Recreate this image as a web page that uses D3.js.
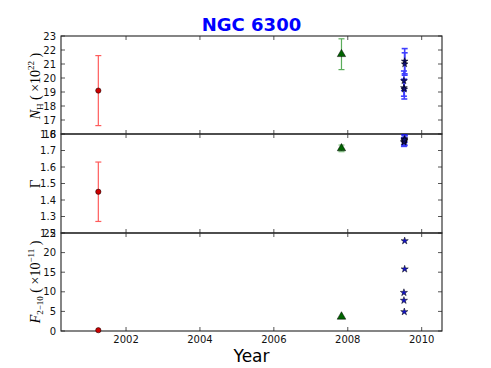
<!DOCTYPE html>
<html>
<head>
<meta charset="utf-8">
<script src="https://cdn.jsdelivr.net/npm/d3@7"></script>
<style>
body { margin: 0; background: #fff; }
svg { display: block; }
</style>
</head>
<body>
<svg width="491" height="368"></svg>
<script>
// observations per instrument: year, NH, gamma, flux with errors
var redYear = [2001.25];
var redNH = [19.1], redNHErr = [2.5];
var redGamma = [1.45], redGammaErr = [0.18];
var redFlux = [0.2];

var greenYear = [2007.83];
var greenNH = [21.7], greenNHErr = [1.1];
var greenGamma = [1.713], greenGammaErr = [0.02];
var greenFlux = [3.65];

var blueYear = [2009.54, 2009.54, 2009.52, 2009.52, 2009.53];
var blueNH = [21.2, 21.0, 19.8, 19.3, 19.2];
var blueNHErr = [0.9, 0.8, 0.7, 0.6, 0.7];
var blueGamma = [1.76, 1.77, 1.75, 1.755, 1.765];
var blueGammaErr = [0.03, 0.02, 0.025, 0.02, 0.03];
var blueFlux = [23.0, 15.8, 9.8, 7.8, 4.9];

var xTicks = [2002, 2004, 2006, 2008, 2010];
var nhTicks = [16, 17, 18, 19, 20, 21, 22, 23];
var gammaTicks = [1.2, 1.3, 1.4, 1.5, 1.6, 1.7, 1.8];
var fluxTicks = [0, 5, 10, 15, 20, 25];

var svg = d3.select('svg');
var left = 61, right = 442;

var x = d3.scaleLinear().domain([2000.24, 2010.55]).range([left, right]);

var panels = [
    { top: 36, bottom: 134, domain: [16, 23], ticks: nhTicks, fmt: d3.format('d') },
    { top: 134, bottom: 233, domain: [1.2, 1.8], ticks: gammaTicks, fmt: d3.format('.1f') },
    { top: 233, bottom: 331, domain: [0, 25], ticks: fluxTicks, fmt: d3.format('d') }
];
panels.forEach(function (p) {
    p.y = d3.scaleLinear().domain(p.domain).range([p.bottom, p.top]);
});

// ticks first, frames on top
panels.forEach(function (p) {
    var g = svg.append('g');
    xTicks.forEach(function (t) {
        g.append('line').attr('x1', x(t)).attr('x2', x(t))
            .attr('y1', p.bottom).attr('y2', p.bottom - 4)
            .attr('stroke', '#555');
        g.append('line').attr('x1', x(t)).attr('x2', x(t))
            .attr('y1', p.top).attr('y2', p.top + 4)
            .attr('stroke', '#555');
    });
    p.ticks.forEach(function (t) {
        var yy = p.y(t);
        g.append('line').attr('x1', left).attr('x2', left + 4)
            .attr('y1', yy).attr('y2', yy).attr('stroke', '#555');
        g.append('line').attr('x1', right).attr('x2', right - 4)
            .attr('y1', yy).attr('y2', yy).attr('stroke', '#555');
        g.append('text')
            .attr('x', 56).attr('y', yy)
            .attr('dy', '0.35em')
            .attr('text-anchor', 'end')
            .style('font-family', 'DejaVu Sans')
            .style('font-size', '10px')
            .attr('fill', '#111')
            .text(p.fmt(t));
    });
    g.append('rect')
        .attr('x', left).attr('y', p.top)
        .attr('width', right - left).attr('height', p.bottom - p.top)
        .attr('fill', 'none').attr('stroke', '#222').attr('stroke-width', 1.1);
});

xTicks.forEach(function (t) {
    svg.append('text')
        .attr('x', x(t)).attr('y', 343)
        .attr('text-anchor', 'middle')
        .style('font-family', 'DejaVu Sans')
        .style('font-size', '10px')
        .attr('fill', '#111')
        .text(t);
});

function errorBars(p, xs, ys, errs, color, width, opacity) {
    var g = svg.append('g').attr('stroke', color).attr('stroke-width', width)
        .attr('opacity', opacity);
    xs.forEach(function (xv, i) {
        var cx = x(xv), y1 = p.y(ys[i] + errs[i]), y2 = p.y(ys[i] - errs[i]);
        g.append('line').attr('x1', cx).attr('x2', cx).attr('y1', y1).attr('y2', y2);
        g.append('line').attr('x1', cx - 3).attr('x2', cx + 3).attr('y1', y1).attr('y2', y1);
        g.append('line').attr('x1', cx - 3).attr('x2', cx + 3).attr('y1', y2).attr('y2', y2);
    });
}

function markers(p, xs, ys, type, size, fill) {
    svg.append('g').selectAll('path')
        .data(xs)
        .enter()
        .append('path')
        .attr('d', d3.symbol().type(type).size(size))
        .attr('transform', function (d, i) {
            return 'translate(' + x(d) + ',' + p.y(ys[i]) + ')';
        })
        .attr('fill', fill)
        .attr('stroke', '#000')
        .attr('stroke-width', 0.5);
}

var nhP = panels[0], gP = panels[1], fP = panels[2];

errorBars(nhP, redYear, redNH, redNHErr, '#ff3333', 1.2, 0.8);
errorBars(nhP, greenYear, greenNH, greenNHErr, '#339933', 1.2, 0.8);
errorBars(nhP, blueYear, blueNH, blueNHErr, '#0000ff', 1.6, 0.75);
markers(nhP, redYear, redNH, d3.symbolCircle, 22, '#cc0000');
markers(nhP, greenYear, greenNH, d3.symbolTriangle, 30, '#006400');
markers(nhP, blueYear, blueNH, d3.symbolStar, 14, '#10107a');

errorBars(gP, redYear, redGamma, redGammaErr, '#ff3333', 1.2, 0.8);
errorBars(gP, greenYear, greenGamma, greenGammaErr, '#66bb66', 1.4, 0.7);
errorBars(gP, blueYear, blueGamma, blueGammaErr, '#0000ff', 1.6, 0.75);
markers(gP, redYear, redGamma, d3.symbolCircle, 22, '#cc0000');
markers(gP, greenYear, greenGamma, d3.symbolTriangle, 30, '#006400');
markers(gP, blueYear, blueGamma, d3.symbolStar, 14, '#10107a');

markers(fP, redYear, redFlux, d3.symbolCircle, 22, '#cc0000');
markers(fP, greenYear, greenFlux, d3.symbolTriangle, 32, '#006400');
markers(fP, blueYear, blueFlux, d3.symbolStar, 16, '#1515c8');

// title and axis labels
svg.append('text')
    .attr('x', (left + right) / 2).attr('y', 31)
    .attr('text-anchor', 'middle')
    .style('font-family', 'DejaVu Sans')
    .style('font-weight', 'bold')
    .style('font-size', '18px')
    .attr('fill', '#0000ff')
    .text('NGC 6300');

svg.append('text')
    .attr('x', (left + right) / 2).attr('y', 362)
    .attr('text-anchor', 'middle')
    .style('font-family', 'DejaVu Sans')
    .style('font-size', '17px')
    .attr('fill', '#000')
    .text('Year');

function yLabel(cy, build) {
    var t = svg.append('text')
        .attr('transform', 'translate(40,' + cy + ') rotate(-90)')
        .attr('text-anchor', 'middle')
        .style('font-family', 'Liberation Serif')
        .style('font-size', '14px')
        .attr('fill', '#000');
    build(t);
}

yLabel(86, function (t) {
    t.append('tspan').style('font-style', 'italic').text('N');
    t.append('tspan').attr('dy', 3).style('font-size', '9px').text('H');
    t.append('tspan').attr('dy', -3).text(' ( ×10');
    t.append('tspan').attr('dy', -6).style('font-size', '9px').text('22');
    t.append('tspan').attr('dy', 6).text(' )');
});
yLabel(184, function (t) {
    t.append('tspan').style('font-size', '15px').text('Γ');
});
yLabel(282, function (t) {
    t.append('tspan').style('font-style', 'italic').text('F');
    t.append('tspan').attr('dy', 3).style('font-size', '9px').text('2−10');
    t.append('tspan').attr('dy', -3).text(' ( ×10');
    t.append('tspan').attr('dy', -6).style('font-size', '9px').text('−11');
    t.append('tspan').attr('dy', 6).text(' )');
});
</script>
</body>
</html>
